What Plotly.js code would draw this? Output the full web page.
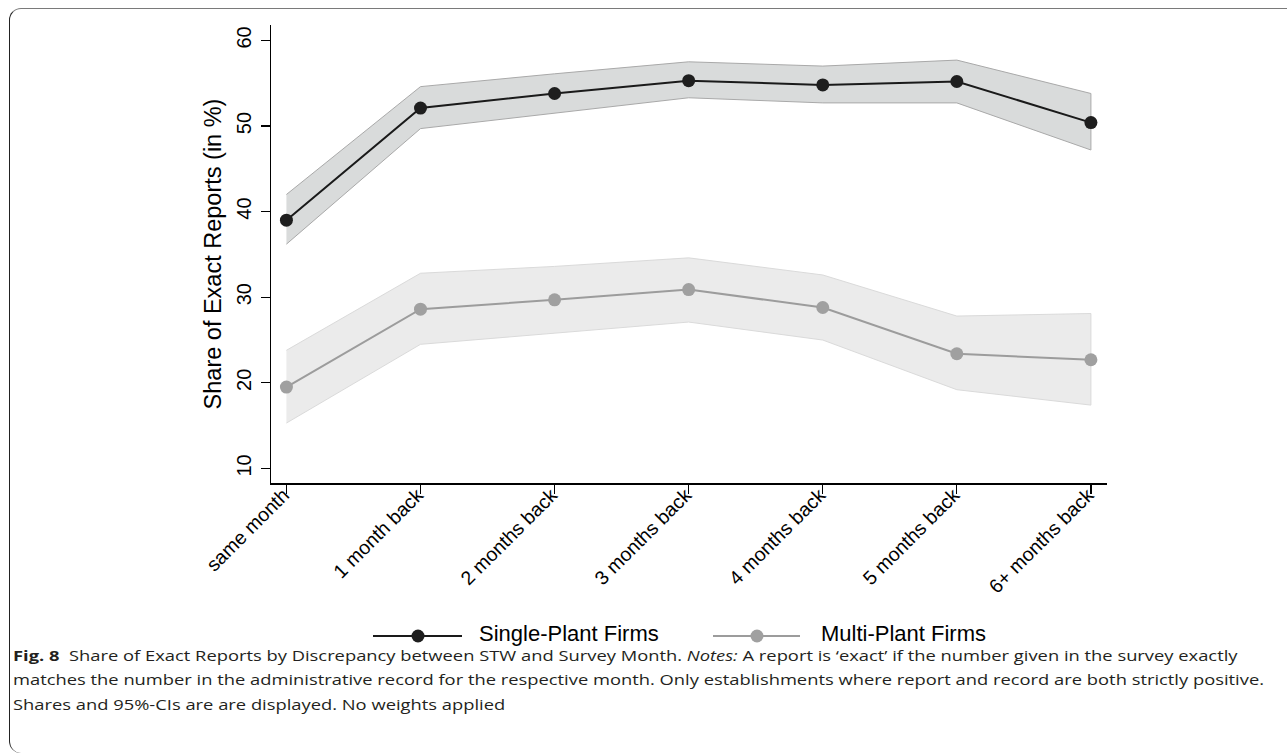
<!DOCTYPE html>
<html>
<head>
<meta charset="utf-8">
<script src="https://cdn.plot.ly/plotly-3.0.1.min.js"></script>
<style>
html,body{margin:0;padding:0;background:#fff;}
#frame{position:absolute;left:9px;top:8px;width:1300px;height:745px;border-top:1.5px solid #7a7a7a;border-left:1.5px solid #222;border-radius:12px 0 0 12px;box-sizing:border-box;}
#chart{position:absolute;left:0;top:0;width:1287px;height:756px;}
.cap{position:absolute;left:13px;white-space:nowrap;font-family:'Open Sans','Noto Sans',sans-serif;font-size:14px;color:#231f20;line-height:12px;transform-origin:0 50%;}
</style>
</head>
<body>
<div id="frame"></div>
<div id="chart"></div>
<div id="captions"></div>
<script>
const categories = ["same month","1 month back","2 months back","3 months back","4 months back","5 months back","6+ months back"];
const seriesNames = ["Single-Plant Firms", "Multi-Plant Firms"];
const singleShare = [39.0, 52.1, 53.8, 55.3, 54.8, 55.2, 50.4];
const singleUpper = [42.0, 54.6, 56.1, 57.5, 57.0, 57.7, 53.8];
const singleLower = [36.2, 49.7, 51.5, 53.3, 52.7, 52.7, 47.2];
const multiShare  = [19.5, 28.6, 29.7, 30.9, 28.8, 23.4, 22.7];
const multiUpper  = [23.8, 32.8, 33.6, 34.6, 32.6, 27.8, 28.1];
const multiLower  = [15.3, 24.5, 25.8, 27.1, 25.0, 19.2, 17.4];
const yTicks = [10, 20, 30, 40, 50, 60];
const captionLines = [
  "<b>Fig. 8</b>&nbsp; Share of Exact Reports by Discrepancy between STW and Survey Month. <i>Notes:</i> A report is ‘exact’ if the number given in the survey exactly",
  "matches the number in the administrative record for the respective month. Only establishments where report and record are both strictly positive.",
  "Shares and 95%-CIs are are displayed. No weights applied"
];

const W = 1287, H = 756;
const M = {l: 271, r: 180, t: 25, b: 273};
const PW = W - M.l - M.r, PH = H - M.t - M.b;
const px = x => (x - M.l) / PW;
const py = y => (H - M.b - y) / PH;

const lineColors = ['#1a1a1a', '#9c9c9c'];
const markerColors = ['#1e1e1e', '#a0a0a0'];

const idx = categories.map((_, i) => i);
const ring = idx.concat(idx.slice().reverse());
const xRange = [-0.115, 6.12];

const traces = [
  {x: ring, y: singleUpper.concat(singleLower.slice().reverse()), type: 'scatter', mode: 'lines',
   fill: 'toself', fillcolor: '#d9dbdb', line: {color: '#a9a9a9', width: 1}, showlegend: false, hoverinfo: 'skip'},
  {x: ring, y: multiUpper.concat(multiLower.slice().reverse()), type: 'scatter', mode: 'lines',
   fill: 'toself', fillcolor: '#ebebeb', line: {color: '#dadada', width: 1}, showlegend: false, hoverinfo: 'skip'},
  {x: idx, y: singleShare, type: 'scatter', mode: 'lines+markers', name: seriesNames[0], showlegend: false,
   line: {color: lineColors[0], width: 2}, marker: {color: markerColors[0], size: 13}},
  {x: idx, y: multiShare, type: 'scatter', mode: 'lines+markers', name: seriesNames[1], showlegend: false,
   line: {color: lineColors[1], width: 2}, marker: {color: markerColors[1], size: 13}},
  // carrier for the category-label axis (invisible)
  {x: idx, y: singleShare, xaxis: 'x2', type: 'scatter', mode: 'markers', marker: {opacity: 0}, showlegend: false, hoverinfo: 'skip'}
];

// custom legend (long line with marker, as in the reference)
const legY = 636;
const legItems = [{x0: 373, x1: 462, mx: 418, tx: 478}, {x0: 713, x1: 800, mx: 757, tx: 820}];
const shapes = [];
const annotations = [];
legItems.forEach((it, i) => {
  shapes.push({type: 'line', xref: 'paper', yref: 'paper', x0: px(it.x0), x1: px(it.x1), y0: py(legY), y1: py(legY),
               line: {color: lineColors[i], width: 2}});
  shapes.push({type: 'circle', xref: 'paper', yref: 'paper', xsizemode: 'pixel', ysizemode: 'pixel',
               xanchor: px(it.mx), yanchor: py(legY), x0: -6.5, x1: 6.5, y0: -6.5, y1: 6.5,
               fillcolor: markerColors[i], line: {width: 0}});
  annotations.push({text: seriesNames[i], xref: 'paper', yref: 'paper', x: px(it.tx), y: py(legY - 3),
                    xanchor: 'left', yanchor: 'middle', showarrow: false, borderpad: 0,
                    font: {size: 22, color: '#000'}});
});

const layout = {
  width: W, height: H,
  margin: M,
  paper_bgcolor: 'rgba(0,0,0,0)', plot_bgcolor: 'rgba(0,0,0,0)',
  font: {family: 'Liberation Sans, Arial, sans-serif', color: '#000'},
  showlegend: false,
  xaxis: {range: xRange, tickmode: 'array', tickvals: idx, showticklabels: false,
          ticks: 'outside', ticklen: 9, tickwidth: 1.3, tickcolor: '#000',
          showline: true, linecolor: '#000', linewidth: 1.5, showgrid: false, zeroline: false, fixedrange: true},
  xaxis2: {range: xRange, overlaying: 'x', anchor: 'free', position: py(479), side: 'bottom',
           tickmode: 'array', tickvals: idx, ticktext: categories, tickangle: -45, tickfont: {size: 19.5},
           ticks: '', ticklabelshift: -3, showline: false, showgrid: false, zeroline: false, fixedrange: true},
  yaxis: {range: [8.3, 61.8], tickmode: 'array', tickvals: yTicks, tickangle: -90, tickfont: {size: 20},
          ticks: 'outside', ticklen: 9, tickwidth: 1.3, tickcolor: '#000', ticklabelstandoff: 2,
          showline: true, linecolor: '#000', linewidth: 1.5, showgrid: false, zeroline: false, fixedrange: true,
          title: {text: 'Share of Exact Reports (in %)', font: {size: 23.5}, standoff: 4}},
  shapes: shapes,
  annotations: annotations
};

Plotly.newPlot('chart', traces, layout, {displayModeBar: false, staticPlot: true});

// caption (real text), stretched horizontally to the reference's line length
const capY = [656, 680, 705];
const capBox = document.getElementById('captions');
const spans = captionLines.map((t, i) => {
  const d = document.createElement('div');
  d.className = 'cap';
  d.style.top = (capY[i] - 6) + 'px';
  d.innerHTML = t;
  capBox.appendChild(d);
  return d;
});
function fitCaption() {
  spans.forEach(d => { d.style.transform = ''; });
  const w = spans[1].getBoundingClientRect().width;
  const s = w > 0 ? 1251 / w : 1;
  spans.forEach(d => { d.style.transform = 'scaleX(' + s + ')'; });
}
fitCaption();
if (document.fonts && document.fonts.ready) document.fonts.ready.then(fitCaption);
</script>
</body>
</html>
